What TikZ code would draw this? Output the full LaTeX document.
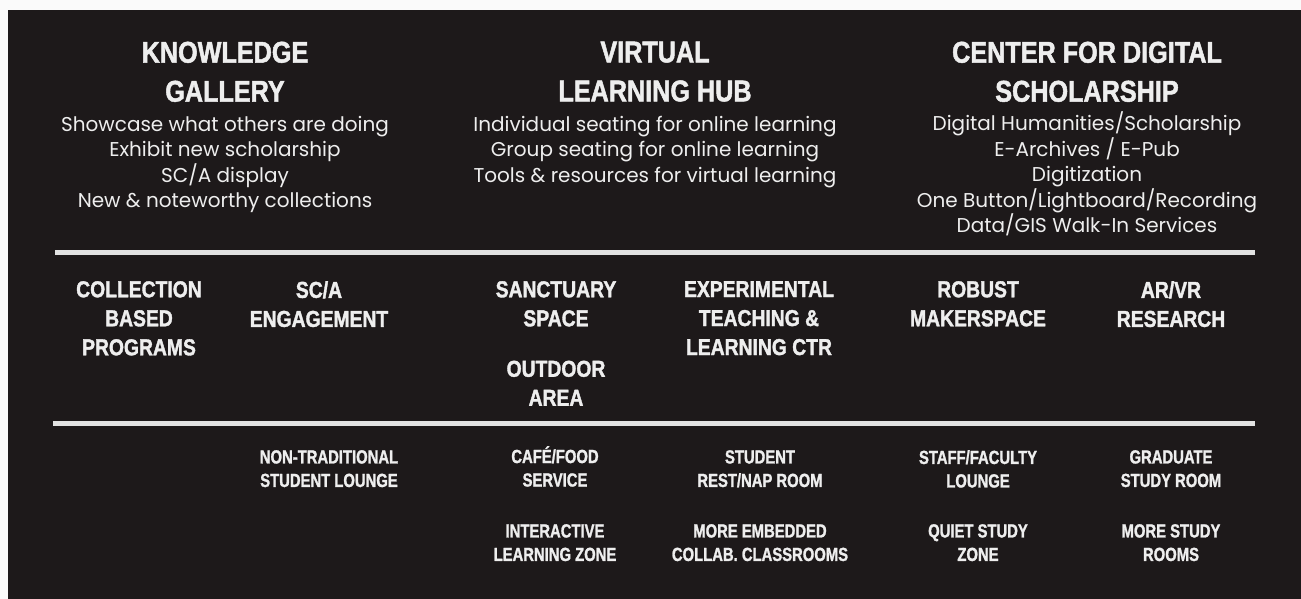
\documentclass[tikz,border=0pt]{standalone}
\usepackage{fontspec}
\setmainfont{Poppins}
\newfontfamily\gothic{Liberation Sans Bold}[FakeStretch=0.84, FakeBold=1.6]
\newfontfamily\gothicnarrow{Liberation Sans Bold}[FakeStretch=0.78, FakeBold=1.3]
\definecolor{board}{RGB}{29,25,26}
\definecolor{chalk}{RGB}{238,238,238}
\definecolor{paper}{RGB}{250,250,250}
\definecolor{rulegray}{RGB}{226,226,226}

\tikzset{
  board text/.style={anchor=north, inner sep=0, align=center, text=chalk},
  title/.style={board text, font=\gothic\fontsize{30}{39}\selectfont},
  blurb/.style={board text, font=\fontsize{20}{25.5}\selectfont},
  zone/.style={board text, font=\gothic\fontsize{23}{29}\selectfont},
  room/.style={board text, font=\gothicnarrow\fontsize{19}{23.5}\selectfont},
  divider/.style={rulegray, line width=5pt}
}

\begin{document}
\begin{tikzpicture}[x=1pt, y=-1pt]
\useasboundingbox (0, 0) rectangle (1301, 599);
\fill [paper] (0, 0) rectangle (1301, 599);
\fill [board] (8, 10) rectangle (1301, 599);

% top band
\node [title] (gallery) at (225, 41.5) {KNOWLEDGE\\GALLERY};
\node [blurb] (galleryList) at (225, 116) {Showcase what others are doing\\Exhibit new scholarship\\SC/A display\\New \& noteworthy collections};
\node [title] (hub) at (655, 41.5) {VIRTUAL\\LEARNING HUB};
\node [blurb] (hubList) at (655, 116) {Individual seating for online learning\\Group seating for online learning\\Tools \& resources for virtual learning};
\node [title] (center) at (1087, 41.5) {CENTER FOR DIGITAL\\SCHOLARSHIP};
% the slash sits higher than the capitals, so this list starts a little higher
\node [blurb] (centerList) at (1087, 111.5) {Digital Humanities/Scholarship\\E-Archives / E-Pub\\Digitization\\One Button/Lightboard/Recording\\Data/GIS Walk-In Services};

\draw [divider] (55, 252) -- (1255, 252);

% middle band
\node [zone] (collection) at (139, 281) {COLLECTION\\BASED\\PROGRAMS};
\node [zone] (engagement) at (319, 281) {SC/A\\ENGAGEMENT};
\node [zone] (sanctuary) at (556, 281) {SANCTUARY\\SPACE};
\node [zone] (outdoor) at (556, 360.5) {OUTDOOR\\AREA};
\node [zone] (teaching) at (759, 281) {EXPERIMENTAL\\TEACHING \&\\LEARNING CTR};
\node [zone] (maker) at (978, 281) {ROBUST\\MAKERSPACE};
\node [zone] (arvr) at (1171, 281) {AR/VR\\RESEARCH};

\draw [divider] (53, 423) -- (1255, 423);

% bottom band
\node [room] (lounge) at (329, 450) {NON-TRADITIONAL\\STUDENT LOUNGE};
\node [room] (cafe) at (555, 446) {CAFÉ/FOOD\\SERVICE};
\node [room] (interactive) at (555, 524) {INTERACTIVE\\LEARNING ZONE};
\node [room] (nap) at (760, 450) {STUDENT\\REST/NAP ROOM};
\node [room] (classrooms) at (760, 524) {MORE EMBEDDED\\COLLAB. CLASSROOMS};
\node [room] (staff) at (978, 450) {STAFF/FACULTY\\LOUNGE};
\node [room] (quiet) at (978, 524) {QUIET STUDY\\ZONE};
\node [room] (grad) at (1171, 450) {GRADUATE\\STUDY ROOM};
\node [room] (more) at (1171, 524) {MORE STUDY\\ROOMS};
\end{tikzpicture}
\end{document}
